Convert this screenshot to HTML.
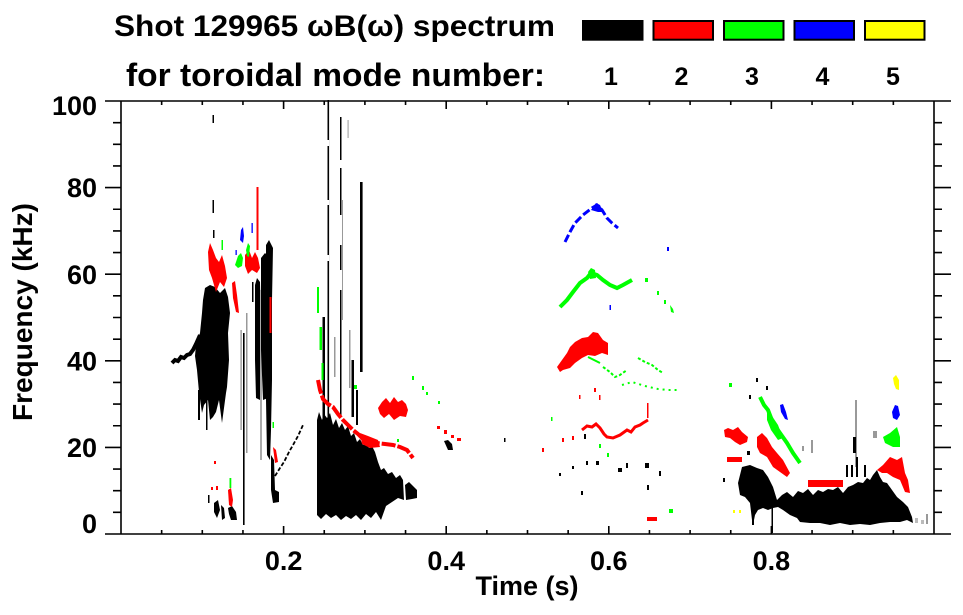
<!DOCTYPE html>
<html><head><meta charset="utf-8"><style>
html,body{margin:0;padding:0;background:#fff;}
svg{display:block;}
text{font-family:"Liberation Sans","DejaVu Sans",sans-serif;font-weight:bold;fill:#000;}
</style></head><body>
<svg width="963" height="615" viewBox="0 0 963 615" xmlns="http://www.w3.org/2000/svg">
<rect width="963" height="615" fill="#fff"/>
<!-- Title -->
<text x="114" y="36" font-size="30" textLength="441" lengthAdjust="spacingAndGlyphs">Shot 129965 ωB(ω) spectrum</text>
<text x="126" y="86" font-size="32" textLength="419" lengthAdjust="spacingAndGlyphs">for toroidal mode number:</text>
<!-- Legend -->
<rect x="582" y="20" width="61.5" height="20.7" fill="#000"/>
<rect x="653.5" y="21" width="59.5" height="18.7" fill="#f00" stroke="#000" stroke-width="2"/>
<rect x="724" y="21" width="59.5" height="18.7" fill="#0f0" stroke="#000" stroke-width="2"/>
<rect x="794.5" y="21" width="59.5" height="18.7" fill="#00f" stroke="#000" stroke-width="2"/>
<rect x="865" y="21" width="59.5" height="18.7" fill="#ff0" stroke="#000" stroke-width="2"/>
<g font-size="25" text-anchor="middle">
<text x="611" y="85">1</text><text x="681.5" y="85">2</text><text x="752" y="85">3</text><text x="822.5" y="85">4</text><text x="893" y="85">5</text>
</g>

<!-- DATA -->
<g id="data">
<!-- Region A black -->
<polyline points="172,363 175,360 178,361 181,357 184,358 187,355 190,354 193,350 196,344 200,335" fill="none" stroke="#000" stroke-width="4"/>
<polygon fill="#000" points="196,345 200,333 202,313 203,300 205,288 210,285 215,287 220,293 225,288 228,297 230,313 228,333 229,360 227,387 226,393 222,423 219,400 216,412 213,417 210,420 208,400 204,405 202,413 199,392 197,370 195,356"/>
<rect x="198" y="390" width="2" height="30" fill="#000"/>
<rect x="206" y="395" width="1.5" height="35" fill="#000"/>
<rect x="243" y="333" width="1.6" height="192" fill="#000"/>
<rect x="240.5" y="330" width="1.2" height="100" fill="#888"/>
<rect x="246" y="313" width="1.5" height="140" fill="#999"/>
<rect x="252" y="282" width="1.5" height="20" fill="#000"/>
<polygon fill="#000" points="255,285 257,278 260,282 261,330 260,370 260,400 256,398 255,360"/>
<rect x="260" y="290" width="2" height="170" fill="#aaa"/>
<polygon fill="#000" points="261,258 265,253 268,256 268,300 267,350 268,398 263,400 261,350"/>
<polygon fill="#000" points="266,245 269,240 273,248 272,300 272,380 271,430 270,460 267,455 266,400"/>
<polygon fill="#000" points="271,455 274,460 275,490 279,492 279,502 273,503 271,490"/>
<polyline points="275,476 280,468 284,462 289,452 293,445 298,436 303,425" fill="none" stroke="#000" stroke-width="1.8" stroke-dasharray="4,2"/>
<rect x="212.5" y="115" width="1.5" height="8" fill="#000"/>
<rect x="212.5" y="200" width="1.5" height="13" fill="#000"/>
<rect x="213" y="230" width="1.5" height="8" fill="#000"/>
<!-- bottom specks A -->
<polygon fill="#000" points="214,503 218,500 220,510 217,518 214,512"/>
<polygon fill="#000" points="221,505 224,508 225,518 222,520"/>
<polygon fill="#000" points="228,508 232,506 236,512 237,520 231,520 229,514"/>
<rect x="208" y="495" width="1.5" height="8" fill="#000"/>
<!-- Region A red -->
<polygon fill="#f00" points="208,252 210,243 213,250 216,258 219,262 222,255 225,266 227,278 224,287 220,282 216,292 212,278 209,270"/>
<polygon fill="#f00" points="245,255 249,250 252,258 255,252 258,258 260,268 257,273 252,270 248,274 245,266"/>
<rect x="256.5" y="187" width="2" height="63" fill="#f00"/>
<rect x="269.5" y="297" width="2" height="36" fill="#f00"/>
<polygon fill="#f00" points="232,283 235,281 237,295 239,313 236,312 233,298"/>
<polygon fill="#f00" points="273,447 276,450 278,462 275,463"/>
<polygon fill="#f00" points="228,490 231,488 233,500 232,507 229,505"/>
<rect x="211" y="487" width="2" height="3" fill="#f00"/><rect x="216" y="486" width="2" height="4" fill="#f00"/><rect x="214" y="461" width="2" height="3" fill="#f00"/>
<!-- Region A green/blue -->
<polygon fill="#0f0" points="235,265 238,256 241,253 243,258 242,266 238,268"/>
<polygon fill="#0f0" points="246,250 248,243 250,246 249,257 247,256"/>
<rect x="221.5" y="240" width="1.5" height="10" fill="#0f0"/>
<rect x="229.5" y="478" width="1.8" height="10" fill="#0f0"/>
<rect x="272.5" y="422" width="1.5" height="6" fill="#0f0"/>
<polygon fill="#00f" points="240,240 241,230 243,227 244,236 243,243"/>
<rect x="251.5" y="223" width="1.3" height="10" fill="#00f"/>
<rect x="235.5" y="250" width="1.3" height="5" fill="#00f"/>

<!-- Region B black -->
<polygon fill="#000" points="317,420 319,412 322,420 324,414 327,418 330,413 333,425 336,419 339,428 342,423 345,430 348,426 351,436 354,433 357,442 360,439 363,445 366,442 369,448 372,446 375,452 378,462 381,470 384,468 388,474 392,472 396,478 400,475 403,480 404,500 398,498 392,502 386,506 381,520 376,512 371,518 366,514 361,520 356,515 351,519 346,516 341,520 336,515 331,518 326,514 321,519 317,515"/>
<polygon fill="#000" points="405,485 409,482 413,486 417,490 417,498 412,499 406,500"/>
<rect x="327.5" y="100" width="1.6" height="333" fill="#000" />
<rect x="327.5" y="140" width="1.6" height="6" fill="#fff"/><rect x="327.5" y="200" width="1.6" height="5" fill="#fff"/><rect x="327.5" y="255" width="1.6" height="6" fill="#fff"/>
<rect x="340" y="117" width="1.5" height="300" fill="#000"/>
<rect x="340" y="160" width="1.5" height="8" fill="#fff"/><rect x="340" y="215" width="1.5" height="30" fill="#fff"/><rect x="340" y="270" width="1.5" height="20" fill="#fff"/>
<rect x="342" y="200" width="1" height="120" fill="#999"/>
<rect x="347.5" y="120" width="1.2" height="18" fill="#aaa"/>
<rect x="360" y="182" width="2.6" height="190" fill="#000"/>
<rect x="322.5" y="317" width="2.5" height="103" fill="#000"/>
<rect x="334" y="337" width="1.5" height="40" fill="#999"/>
<rect x="349" y="330" width="1.5" height="58" fill="#999"/>
<rect x="351.5" y="360" width="2.5" height="57" fill="#000"/>
<rect x="356" y="390" width="2" height="35" fill="#000"/>
<!-- Region B red -->
<polyline points="318,380 320,390 323,399 328,404 333,407 338,414 343,420 348,425 353,430 358,434 363,439 370,442 377,443 385,444 393,445 400,447 407,450 413,458" fill="none" stroke="#f00" stroke-width="4" stroke-dasharray="14,2"/>
<polygon fill="#f00" points="360,433 368,436 378,440 380,447 370,448 362,444"/>
<polygon fill="#f00" points="378,408 382,402 386,398 390,403 394,397 398,402 402,400 406,404 408,410 406,417 400,416 394,420 389,414 384,418 380,414"/>
<rect x="437" y="426" width="3" height="3" fill="#f00"/><rect x="444" y="430" width="3" height="4" fill="#f00"/><rect x="451" y="435" width="3" height="3" fill="#f00"/><rect x="457" y="438" width="4" height="3" fill="#f00"/>
<polygon fill="#000" points="444,441 448,440 452,444 453,450 448,450"/>
<!-- Region B green -->
<rect x="317" y="287" width="2" height="26" fill="#0f0"/>
<rect x="319.5" y="327" width="2.5" height="23" fill="#0f0"/>
<rect x="321.5" y="363" width="2" height="17" fill="#0f0"/>
<rect x="354" y="385" width="3" height="4" fill="#0f0"/><rect x="412" y="376" width="2" height="4" fill="#0f0"/><rect x="422" y="386" width="2" height="4" fill="#0f0"/><rect x="426" y="392" width="2" height="3" fill="#0f0"/><rect x="438" y="401" width="2" height="3" fill="#0f0"/><rect x="397" y="439" width="2" height="3" fill="#0f0"/>

<!-- Region C -->
<polyline points="565,242 570,232 575,223 583,215 592,208 597,205 602,210 607,218 612,223 618,228" fill="none" stroke="#00f" stroke-width="3" stroke-dasharray="8,3"/>
<polygon fill="#00f" points="591,210 596,203 600,205 603,212 598,212"/>
<rect x="667" y="247" width="2" height="4" fill="#00f"/><rect x="609.5" y="305" width="1.5" height="5" fill="#00f"/>
<polyline points="560,307 567,300 573,292 580,283 587,278 591,273 597,275 603,280 610,285 617,288 623,285 632,280" fill="none" stroke="#0f0" stroke-width="4"/>
<polygon fill="#0f0" points="588,272 591,268 595,270 596,278 590,279"/>
<rect x="645" y="278" width="3" height="4" fill="#0f0"/><rect x="657" y="291" width="2" height="4" fill="#0f0"/><rect x="664" y="300" width="2" height="4" fill="#0f0"/><polygon fill="#0f0" points="670,305 673,309 674,313 671,312"/>
<polygon fill="#f00" points="557,367 562,360 567,353 570,347 575,342 582,338 588,337 593,332 598,333 603,340 608,343 608,355 602,353 595,356 588,355 582,358 575,363 570,368 563,370 560,372"/>
<!-- green lower arc -->
<polyline points="588,357 594,360 600,363" fill="none" stroke="#0f0" stroke-width="2"/>
<polyline points="603,367 610,372 615,377 620,375 627,370" fill="none" stroke="#0f0" stroke-width="2" stroke-dasharray="3,2"/>
<polyline points="638,358 645,362 652,365 658,370 663,373" fill="none" stroke="#0f0" stroke-width="2" stroke-dasharray="3,2"/>
<polyline points="622,385 632,382 645,386 658,389 668,390 680,390" fill="none" stroke="#0f0" stroke-width="2" stroke-dasharray="2,4"/>
<rect x="599" y="444" width="2" height="4" fill="#0f0"/><rect x="607" y="453" width="2" height="4" fill="#0f0"/><rect x="551" y="417" width="1.5" height="4" fill="#0f0"/>
<rect x="669" y="509" width="4" height="4" fill="#0f0"/>
<!-- red lower arc -->
<polyline points="582,430 587,426 592,427 596,424 600,428 604,434 607,437 613,438 620,435 627,430 631,432 635,427 640,425 643,423 648,420" fill="none" stroke="#f00" stroke-width="3"/>
<rect x="647" y="403" width="1.5" height="15" fill="#f00"/>
<rect x="542" y="448" width="2" height="4" fill="#f00"/><rect x="562" y="438" width="2" height="4" fill="#f00"/><rect x="572" y="436" width="2" height="4" fill="#f00"/><rect x="594" y="388" width="2" height="4" fill="#f00"/><rect x="579" y="395" width="1.5" height="4" fill="#f00"/><rect x="599" y="395" width="1.5" height="5" fill="#f00"/>
<rect x="647" y="517" width="10" height="4" fill="#f00"/>
<rect x="733" y="510" width="2" height="3" fill="#ff0"/><rect x="739" y="510" width="2" height="3" fill="#ff0"/>
<!-- black specks C -->
<rect x="584" y="434" width="2" height="5" fill="#000"/><rect x="559" y="473" width="2" height="3" fill="#000"/><rect x="572" y="466" width="2" height="3" fill="#000"/><rect x="586" y="461" width="2" height="4" fill="#000"/><rect x="596" y="461" width="3" height="4" fill="#000"/><rect x="618" y="468" width="4" height="4" fill="#000"/><rect x="626" y="463" width="2" height="5" fill="#000"/><rect x="645" y="463" width="4" height="5" fill="#000"/><rect x="647" y="485" width="2" height="5" fill="#000"/><rect x="659" y="471" width="2" height="5" fill="#000"/><rect x="581" y="491" width="2" height="4" fill="#000"/><rect x="504" y="438" width="1.5" height="4" fill="#000"/><rect x="723" y="478" width="2" height="4" fill="#000"/>

<!-- Region D -->
<polygon fill="#000" points="738,483 742,467 750,465 757,468 763,470 768,477 773,487 777,500 782,495 787,492 793,497 798,491 803,493 808,489 813,495 818,490 823,492 828,489 833,490 838,487 843,493 848,487 853,485 858,482 863,483 867,478 870,480 873,475 877,470 880,477 883,482 887,483 892,490 897,497 903,502 908,507 912,517 913,523 907,520 900,522 890,522 880,523 870,525 860,524 850,525 840,523 830,525 820,523 810,523 800,522 797,518 790,515 783,510 778,507 773,508 768,510 763,508 758,510 755,515 753,525 752,520 750,503 745,497 740,495"/>
<rect x="771.5" y="500" width="1.5" height="33" fill="#000"/>
<rect x="752" y="516" width="2" height="9" fill="#000"/>
<rect x="855" y="400" width="2" height="67" fill="#999"/>
<rect x="846" y="465" width="2" height="12" fill="#000"/><rect x="851" y="465" width="2" height="12" fill="#000"/><rect x="856" y="457" width="2" height="20" fill="#000"/><rect x="864" y="465" width="2" height="12" fill="#000"/>
<rect x="853" y="437" width="3" height="16" fill="#000"/>
<rect x="873" y="431" width="4" height="7" fill="#999"/>
<rect x="747" y="451" width="3" height="4" fill="#000"/><rect x="749" y="395" width="2" height="4" fill="#000"/><rect x="756" y="378" width="2" height="4" fill="#000"/><rect x="766" y="386" width="2" height="4" fill="#000"/>
<rect x="802" y="446" width="2" height="5" fill="#999"/><rect x="811" y="440" width="2" height="13" fill="#999"/>
<rect x="915" y="518" width="3" height="5" fill="#bbb"/><rect x="921" y="520" width="3" height="4" fill="#bbb"/><rect x="926" y="514" width="2" height="10" fill="#999"/>
<!-- red D -->
<polygon fill="#f00" points="724,430 728,428 733,430 738,427 742,432 748,437 747,442 740,445 735,442 730,438 725,437"/>
<rect x="727" y="457" width="15" height="5" fill="#f00"/>
<polygon fill="#f00" points="757,437 762,433 767,438 772,447 777,453 783,460 790,473 787,477 780,472 773,467 767,457 760,453 757,447"/>
<rect x="808" y="480" width="35" height="7" fill="#f00"/>
<polygon fill="#f00" points="877,470 883,465 890,457 897,460 902,457 905,473 908,480 910,493 905,492 900,480 893,477 887,473 882,473"/>
<!-- green D -->
<polyline points="760,397 764,405 768,410 773,423 780,433 787,443 793,453 800,463" fill="none" stroke="#0f0" stroke-width="4"/>
<polygon fill="#0f0" points="767,412 772,416 778,425 783,438 778,440 771,430 767,420"/>
<rect x="729" y="383" width="3" height="4" fill="#0f0"/>
<polygon fill="#0f0" points="883,437 890,433 897,427 900,437 900,447 893,447 885,443"/>
<!-- blue/yellow D -->
<polygon fill="#00f" points="780,405 783,404 786,412 788,420 785,419 781,412"/>
<polygon fill="#00f" points="892,412 895,405 898,406 900,415 897,420 893,418"/>
<polygon fill="#ff0" points="893,378 896,375 899,380 899,390 896,389 894,384"/>
</g>

<!-- AXES -->
<g stroke="#000" stroke-width="1.6" fill="none">
<line x1="105" y1="101" x2="951" y2="101"/>
<line x1="105" y1="534" x2="951" y2="534"/>
<line x1="121" y1="101" x2="121" y2="534"/>
<line x1="934" y1="101" x2="934" y2="534"/>
<path d="M105 187.6H121M105 274.2H121M105 360.8H121M105 447.4H121 M934 187.6H951M934 274.2H951M934 360.8H951M934 447.4H951"/>
<path d="M113 122.65H121M113 144.3H121M113 165.95H121M113 209.25H121M113 230.9H121M113 252.55H121M113 295.85H121M113 317.5H121M113 339.15H121M113 382.45H121M113 404.1H121M113 425.75H121M113 469.05H121M113 490.7H121M113 512.35H121
M934 122.65H942M934 144.3H942M934 165.95H942M934 209.25H942M934 230.9H942M934 252.55H942M934 295.85H942M934 317.5H942M934 339.15H942M934 382.45H942M934 404.1H942M934 425.75H942M934 469.05H942M934 490.7H942M934 512.35H942"/>
<path d="M283.6 534V526M446.2 534V526M608.8 534V526M771.4 534V526 M283.6 101V109M446.2 101V109M608.8 101V109M771.4 101V109"/>
<path d="M161.65 534V530M202.3 534V530M242.95 534V530M324.25 534V530M364.9 534V530M405.55 534V530M486.85 534V530M527.5 534V530M568.15 534V530M649.45 534V530M690.1 534V530M730.75 534V530M812.05 534V530M852.7 534V530M893.35 534V530
M161.65 101V105M202.3 101V105M242.95 101V105M324.25 101V105M364.9 101V105M405.55 101V105M486.85 101V105M527.5 101V105M568.15 101V105M649.45 101V105M690.1 101V105M730.75 101V105M812.05 101V105M852.7 101V105M893.35 101V105"/>
</g>

<!-- Tick labels -->
<g font-size="27" text-anchor="end">
<text x="97" y="115">100</text>
<text x="97" y="197">80</text>
<text x="97" y="284">60</text>
<text x="97" y="370.5">40</text>
<text x="97" y="457">20</text>
<text x="97" y="533">0</text>
</g>
<g font-size="27" text-anchor="middle">
<text x="283.6" y="570">0.2</text>
<text x="446.2" y="570">0.4</text>
<text x="608.8" y="570">0.6</text>
<text x="771.4" y="570">0.8</text>
<text x="527" y="595">Time (s)</text>
</g>
<text font-size="28" text-anchor="middle" transform="translate(32,312) rotate(-90)" textLength="218" lengthAdjust="spacingAndGlyphs">Frequency (kHz)</text>
</svg>
</body></html>
